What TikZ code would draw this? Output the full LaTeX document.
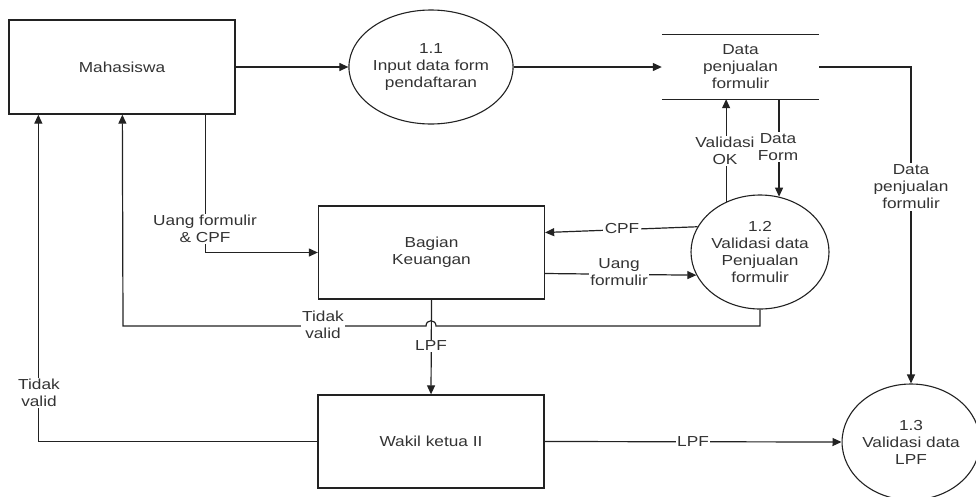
\documentclass[tikz,border=0pt]{standalone}
\usepackage{fontspec}
\setmainfont{Liberation Sans}[FakeStretch=1.19]
\usetikzlibrary{arrows.meta,calc,shapes.geometric}
\definecolor{ln}{HTML}{222222}
\definecolor{tx}{HTML}{333333}
\begin{document}
\begin{tikzpicture}[x=1pt,y=-1pt,
  every node/.style={font=\fontsize{14.5}{17}\selectfont, text=tx, align=center},
  ent/.style={draw=ln, line width=1.3pt, rectangle, minimum width=226, minimum height=94, inner sep=0},
  proc/.style={draw=ln, line width=1.1pt, ellipse, minimum width=138, minimum height=114, inner sep=0},
  flow/.style={draw=ln, line width=1.2pt},
  arr/.style={flow, -{Triangle[length=9pt,width=8pt]}},
  lbl/.style={fill=white, inner sep=1.5pt},
]
\useasboundingbox (0,0) rectangle (976,496);

% nodes
\node[ent] (mhs) at (122,67) {Mahasiswa};
\node[proc] (p11) at (431,67) {1.1\\Input data form\\pendaftaran};
\node[minimum width=157, minimum height=64, inner sep=0] (ds) at (740.5,67) {Data\\penjualan\\formulir};
\draw[flow] (ds.north west) -- (ds.north east) (ds.south west) -- (ds.south east);
\node[ent, minimum height=93] (bk) at (431.5,252.5) {Bagian\\Keuangan};
\node[proc] (p12) at (760,252) {1.2\\Validasi data\\Penjualan\\formulir};
\node[ent, minimum height=93] (wk) at (431,441.5) {Wakil ketua II};
\node[proc, minimum width=136, minimum height=116] (p13) at (911,442) {1.3\\Validasi data\\LPF};

% connectors
\draw[arr] (mhs.east) -- (p11.west);
\draw[arr] (p11.east) -- (ds.west);
\draw[arr] (ds.east) -- (ds.east -| p13.north) -- (p13.north);
\draw[arr] (p12.124) -- (p12.124 |- ds.south);
\draw[arr] (p12.71 |- ds.south) -- (p12.71);
\draw[arr] (p12.158) -- ($(bk.east)+(0,-20)$);
\draw[arr] ($(bk.east)+(0,21)$) -- (p12.200);
\draw[arr] ($(mhs.south west)+(197,0)$) |- (bk.west);
\draw[arr] (p12.south) |- (436,326) .. controls (436,319) and (426,319) .. (426,326) -- (123,326) -- ($(mhs.south west)+(114,0)$);
\draw[arr] (bk.south) -- (wk.north);
\draw[arr] (wk.west) -| ($(mhs.south west)+(30,0)$);
\draw[arr] (wk.east) -- (p13.west);

% labels
\node[lbl] (l1) at (911,187) {Data\\penjualan\\formulir};
\node[lbl] (l2) at (205,229) {Uang formulir\\\& CPF};
\node[lbl] (l3) at (622,229) {CPF};
\node[lbl] (l4) at (619,272) {Uang\\formulir};
\node[lbl] (l5) at (323,325) {Tidak\\valid};
\node[lbl] (l6) at (431,346) {LPF};
\node[lbl] (l7) at (39,393) {Tidak\\valid};
\node[lbl] (l8) at (693,442) {LPF};
\node[lbl] (l9) at (725,151) {Validasi\\OK};
\node[lbl] (l10) at (778,147) {Data\\Form};
\end{tikzpicture}
\end{document}
